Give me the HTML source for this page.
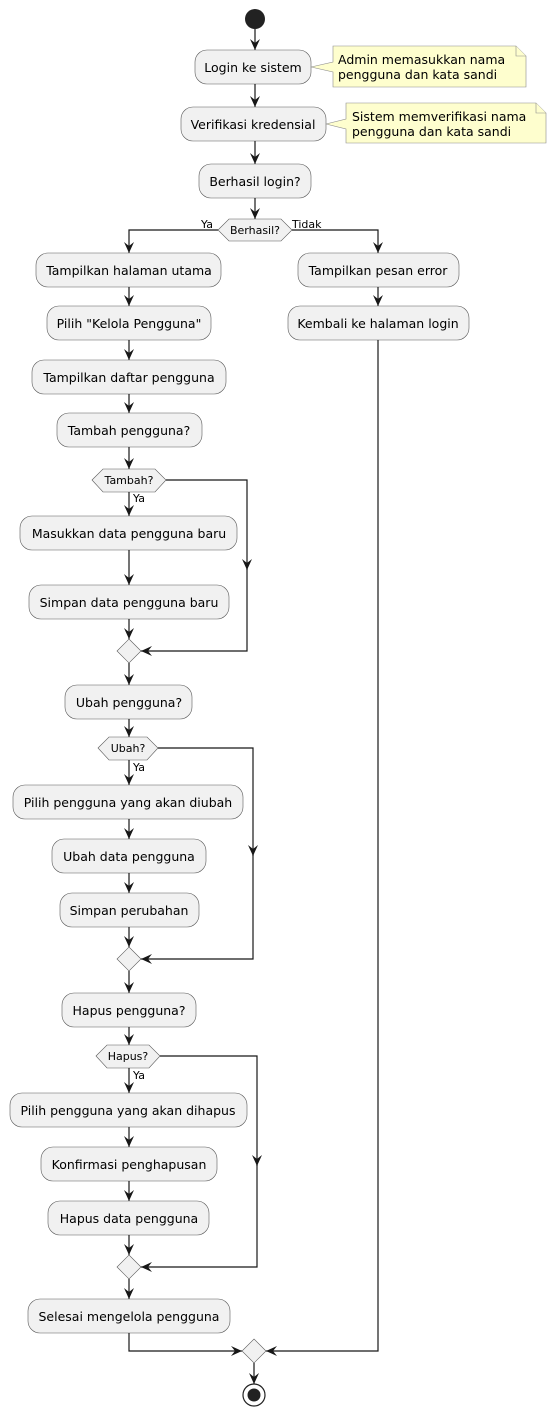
<!DOCTYPE html>
<html><head><meta charset="utf-8"><style>
html,body{margin:0;padding:0;background:#fff}
svg{display:block}
text{font-family:"DejaVu Sans","Liberation Sans",sans-serif;fill:#000}
.b{fill:#f1f1f1;stroke:#5a5a5a;stroke-width:0.6}
.l{fill:none;stroke:#181818;stroke-width:1.2}
.n{fill:#fefece;stroke:#8b8b8b;stroke-width:0.6}
</style></head><body>
<svg width="557" height="1415" viewBox="0 0 557 1415" xmlns="http://www.w3.org/2000/svg">
<defs>
<marker id="a" viewBox="0 0 12 10" refX="11" refY="5" markerWidth="12" markerHeight="10" markerUnits="userSpaceOnUse" orient="auto">
<path d="M0,0 L11,5 L0,10 L4,5 Z" fill="#181818"/>
</marker>
</defs>
<!-- start -->
<circle cx="255" cy="19" r="10" fill="#222"/>
<path class="l" d="M255,29 V50" marker-end="url(#a)"/>
<rect class="b" x="195" y="50" width="116" height="34" rx="12"/>
<text x="253" y="72" font-size="12.5" text-anchor="middle">Login ke sistem</text>
<path class="n" d="M333,46 H516 L526,56 V87 H333 V72 L311,67 L333,62 Z"/>
<path class="n" d="M516,46 V56 H526"/>
<text x="338" y="64" font-size="12.5">Admin memasukkan nama</text>
<text x="338" y="79" font-size="12.5">pengguna dan kata sandi</text>
<path class="l" d="M255,84 V107" marker-end="url(#a)"/>
<rect class="b" x="181" y="107" width="145" height="34" rx="12"/>
<text x="253" y="129" font-size="12.5" text-anchor="middle">Verifikasi kredensial</text>
<path class="n" d="M346,103 H536 L546,113 V143 H346 V129 L326,124 L346,119 Z"/>
<path class="n" d="M536,103 V113 H546"/>
<text x="352" y="121" font-size="12.5">Sistem memverifikasi nama</text>
<text x="352" y="136" font-size="12.5">pengguna dan kata sandi</text>
<path class="l" d="M255,141 V164" marker-end="url(#a)"/>
<rect class="b" x="199" y="164" width="112" height="34" rx="12"/>
<text x="255" y="186" font-size="12.5" text-anchor="middle">Berhasil login?</text>
<path class="l" d="M255,198 V219" marker-end="url(#a)"/>
<polygon class="b" points="218,230 229,219 281,219 292,230 281,241 229,241"/>
<text x="255" y="234" font-size="11" text-anchor="middle">Berhasil?</text>
<text x="201" y="228" font-size="11">Ya</text>
<text x="292" y="228" font-size="11">Tidak</text>
<path class="l" d="M218,230 H129 V253" marker-end="url(#a)"/>
<path class="l" d="M292,230 H378 V253" marker-end="url(#a)"/>
<!-- right branch -->
<rect class="b" x="298" y="253" width="161" height="34" rx="12"/>
<text x="378" y="275" font-size="12.5" text-anchor="middle">Tampilkan pesan error</text>
<path class="l" d="M378,287 V306" marker-end="url(#a)"/>
<rect class="b" x="288" y="306" width="181" height="34" rx="12"/>
<text x="378" y="328" font-size="12.5" text-anchor="middle">Kembali ke halaman login</text>
<path class="l" d="M378,340 V1351 H266" marker-end="url(#a)"/>
<!-- left branch -->
<rect class="b" x="36" y="253" width="185" height="34" rx="12"/>
<text x="129" y="275" font-size="12.5" text-anchor="middle">Tampilkan halaman utama</text>
<path class="l" d="M129,287 V306" marker-end="url(#a)"/>
<rect class="b" x="47" y="306" width="164" height="34" rx="12"/>
<text x="129" y="328" font-size="12.5" text-anchor="middle">Pilih "Kelola Pengguna"</text>
<path class="l" d="M129,340 V360" marker-end="url(#a)"/>
<rect class="b" x="32" y="360" width="194" height="34" rx="12"/>
<text x="129" y="382" font-size="12.5" text-anchor="middle">Tampilkan daftar pengguna</text>
<path class="l" d="M129,394 V413" marker-end="url(#a)"/>
<rect class="b" x="57" y="413" width="145" height="34" rx="12"/>
<text x="129" y="435" font-size="12.5" text-anchor="middle">Tambah pengguna?</text>
<path class="l" d="M129,447 V469" marker-end="url(#a)"/>
<polygon class="b" points="92,480 103,469 155,469 166,480 155,492 103,492"/>
<text x="129" y="484" font-size="11" text-anchor="middle">Tambah?</text>
<text x="133" y="502" font-size="11">Ya</text>
<path class="l" d="M129,492 V516" marker-end="url(#a)"/>
<path class="l" d="M166,480 H247 V570" marker-end="url(#a)"/>
<path class="l" d="M247,565 V651 H141" marker-end="url(#a)"/>
<rect class="b" x="20" y="516" width="217" height="34" rx="12"/>
<text x="129" y="538" font-size="12.5" text-anchor="middle">Masukkan data pengguna baru</text>
<path class="l" d="M129,550 V585" marker-end="url(#a)"/>
<rect class="b" x="29" y="585" width="200" height="34" rx="12"/>
<text x="129" y="607" font-size="12.5" text-anchor="middle">Simpan data pengguna baru</text>
<path class="l" d="M129,619 V639" marker-end="url(#a)"/>
<polygon class="b" points="129,639 141,651 129,663 117,651"/>
<path class="l" d="M129,663 V685" marker-end="url(#a)"/>
<rect class="b" x="65" y="685" width="127" height="34" rx="12"/>
<text x="129" y="707" font-size="12.5" text-anchor="middle">Ubah pengguna?</text>
<path class="l" d="M129,719 V737" marker-end="url(#a)"/>
<polygon class="b" points="98,748 109,737 147,737 158,748 147,760 109,760"/>
<text x="128" y="752" font-size="11" text-anchor="middle">Ubah?</text>
<text x="133" y="771" font-size="11">Ya</text>
<path class="l" d="M129,760 V785" marker-end="url(#a)"/>
<path class="l" d="M158,748 H253 V856" marker-end="url(#a)"/>
<path class="l" d="M253,850 V959 H141" marker-end="url(#a)"/>
<rect class="b" x="13" y="785" width="230" height="34" rx="12"/>
<text x="128" y="807" font-size="12.5" text-anchor="middle">Pilih pengguna yang akan diubah</text>
<path class="l" d="M129,819 V839" marker-end="url(#a)"/>
<rect class="b" x="52" y="839" width="154" height="34" rx="12"/>
<text x="129" y="861" font-size="12.5" text-anchor="middle">Ubah data pengguna</text>
<path class="l" d="M129,873 V893" marker-end="url(#a)"/>
<rect class="b" x="60" y="893" width="139" height="34" rx="12"/>
<text x="129" y="915" font-size="12.5" text-anchor="middle">Simpan perubahan</text>
<path class="l" d="M129,927 V947" marker-end="url(#a)"/>
<polygon class="b" points="129,947 141,959 129,971 117,959"/>
<path class="l" d="M129,971 V993" marker-end="url(#a)"/>
<rect class="b" x="62" y="993" width="134" height="34" rx="12"/>
<text x="129" y="1015" font-size="12.5" text-anchor="middle">Hapus pengguna?</text>
<path class="l" d="M129,1027 V1045" marker-end="url(#a)"/>
<polygon class="b" points="96,1056 107,1045 149,1045 160,1056 149,1068 107,1068"/>
<text x="128" y="1060" font-size="11" text-anchor="middle">Hapus?</text>
<text x="133" y="1079" font-size="11">Ya</text>
<path class="l" d="M129,1068 V1093" marker-end="url(#a)"/>
<path class="l" d="M160,1056 H257 V1166" marker-end="url(#a)"/>
<path class="l" d="M257,1160 V1267 H141" marker-end="url(#a)"/>
<rect class="b" x="10" y="1093" width="237" height="34" rx="12"/>
<text x="128" y="1115" font-size="12.5" text-anchor="middle">Pilih pengguna yang akan dihapus</text>
<path class="l" d="M129,1127 V1147" marker-end="url(#a)"/>
<rect class="b" x="41" y="1147" width="176" height="34" rx="12"/>
<text x="129" y="1169" font-size="12.5" text-anchor="middle">Konfirmasi penghapusan</text>
<path class="l" d="M129,1181 V1201" marker-end="url(#a)"/>
<rect class="b" x="48" y="1201" width="161" height="34" rx="12"/>
<text x="129" y="1223" font-size="12.5" text-anchor="middle">Hapus data pengguna</text>
<path class="l" d="M129,1235 V1255" marker-end="url(#a)"/>
<polygon class="b" points="129,1255 141,1267 129,1279 117,1267"/>
<path class="l" d="M129,1279 V1299" marker-end="url(#a)"/>
<rect class="b" x="28" y="1299" width="202" height="34" rx="12"/>
<text x="129" y="1321" font-size="12.5" text-anchor="middle">Selesai mengelola pengguna</text>
<path class="l" d="M129,1333 V1351 H242" marker-end="url(#a)"/>
<polygon class="b" points="254,1339 266,1351 254,1363 242,1351"/>
<path class="l" d="M254,1363 V1384" marker-end="url(#a)"/>
<circle cx="254" cy="1395" r="11" fill="none" stroke="#222" stroke-width="1.2"/>
<circle cx="254" cy="1395" r="6.5" fill="#222"/>
</svg>
</body></html>
